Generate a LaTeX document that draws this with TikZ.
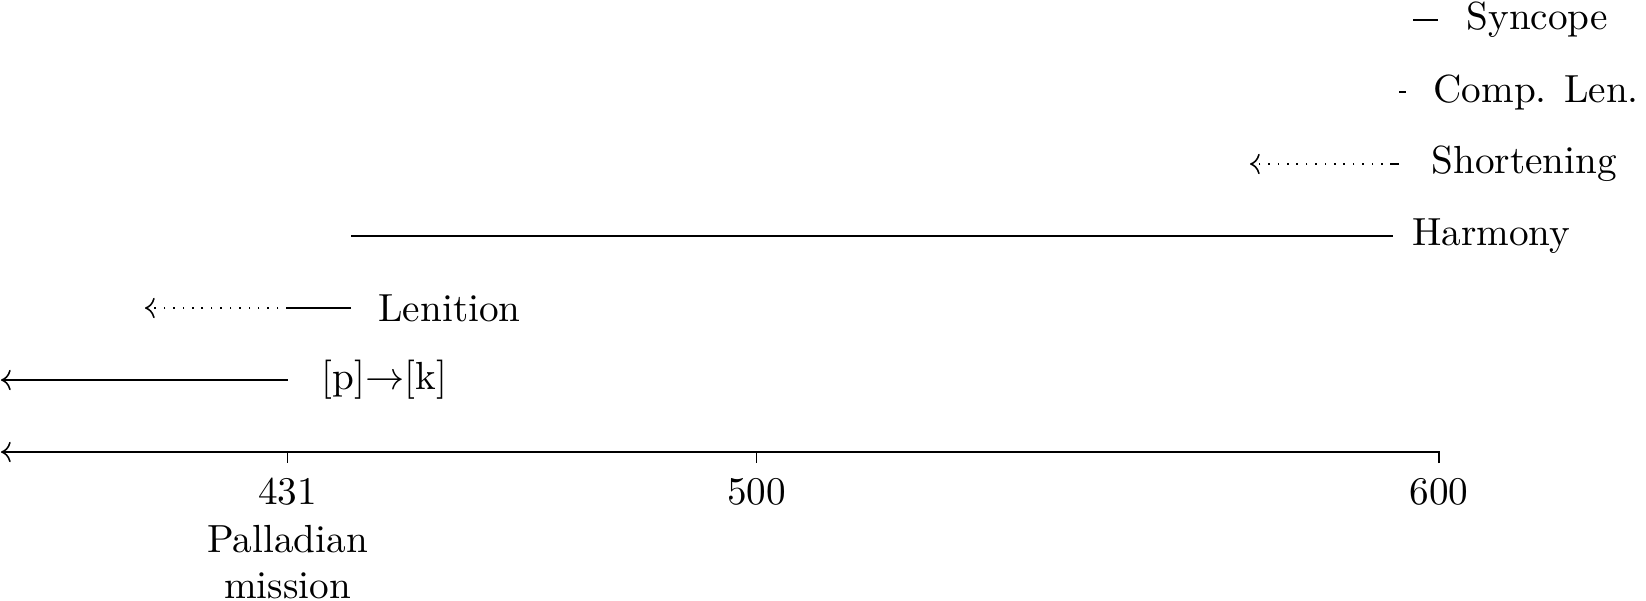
\documentclass[tikz,border=0pt]{standalone}
\usetikzlibrary{arrows.meta}
\begin{document}
\begin{tikzpicture}[x={(0.2551pt,0pt)},y={(0pt,-0.2551pt)}, line width=0.4pt,
  >={Computer Modern Rightarrow},
  lbl/.style={anchor=west,inner sep=0pt},
  ticklbl/.style={anchor=base,inner sep=0pt}]
\useasboundingbox (0,0) rectangle (1646,600);
% axis
\coordinate (t600b) at (1439,463);
\coordinate (t600) at (1439,452);
\coordinate (axL) at (1,452);
\coordinate (t431) at (287.7,452);
\coordinate (t431b) at (287.7,463);
\coordinate (t500) at (756.7,452);
\coordinate (t500b) at (756.7,463);
\draw[->] (t600b) -- (t600) -- (axL);
\draw (t431) -- (t431b);
\draw (t500) -- (t500b);
\node[ticklbl] (l431) at (287.7,504) {431};
\node[ticklbl] (l500) at (756.7,504) {500};
\node[ticklbl] (l600) at (1439,504) {600};
\node[ticklbl] (pall) at (287.7,552) {Palladian};
\node[ticklbl] (miss) at (287.7,598) {mission};
% [p]->[k]
\coordinate (pkA) at (287.7,380);
\coordinate (pkB) at (1,380);
\draw[->] (pkA) -- (pkB);
\node[lbl] (pk) at (321,380) {[p]$\rightarrow$[k]};
% Lenition
\coordinate (lenA) at (351,308);
\coordinate (lenB) at (287.7,308);
\coordinate (lenC) at (145,308);
\draw (lenA) -- (lenB);
\draw[->,dotted] (lenB) -- (lenC);
\node[lbl] (len) at (377.7,308) {Lenition};
% Harmony
\coordinate (harA) at (351,236);
\coordinate (harB) at (1393,236);
\draw (harA) -- (harB);
\node[lbl] (har) at (1411.4,236) {Harmony};
% Shortening
\coordinate (shA) at (1399,164);
\coordinate (shB) at (1392,164);
\coordinate (shC) at (1250,164);
\draw (shA) -- (shB);
\draw[->,dotted] (shB) -- (shC);
\node[lbl] (sh) at (1430.8,164) {Shortening};
% Comp. Len.
\coordinate (clA) at (1399,92);
\coordinate (clB) at (1406,92);
\draw (clA) -- (clB);
\node[lbl] (cl) at (1432.8,92) {Comp. Len.};
% Syncope
\coordinate (syA) at (1413,20);
\coordinate (syB) at (1438,20);
\draw (syA) -- (syB);
\node[lbl] (sy) at (1465.8,20) {Syncope};
\end{tikzpicture}
\end{document}
